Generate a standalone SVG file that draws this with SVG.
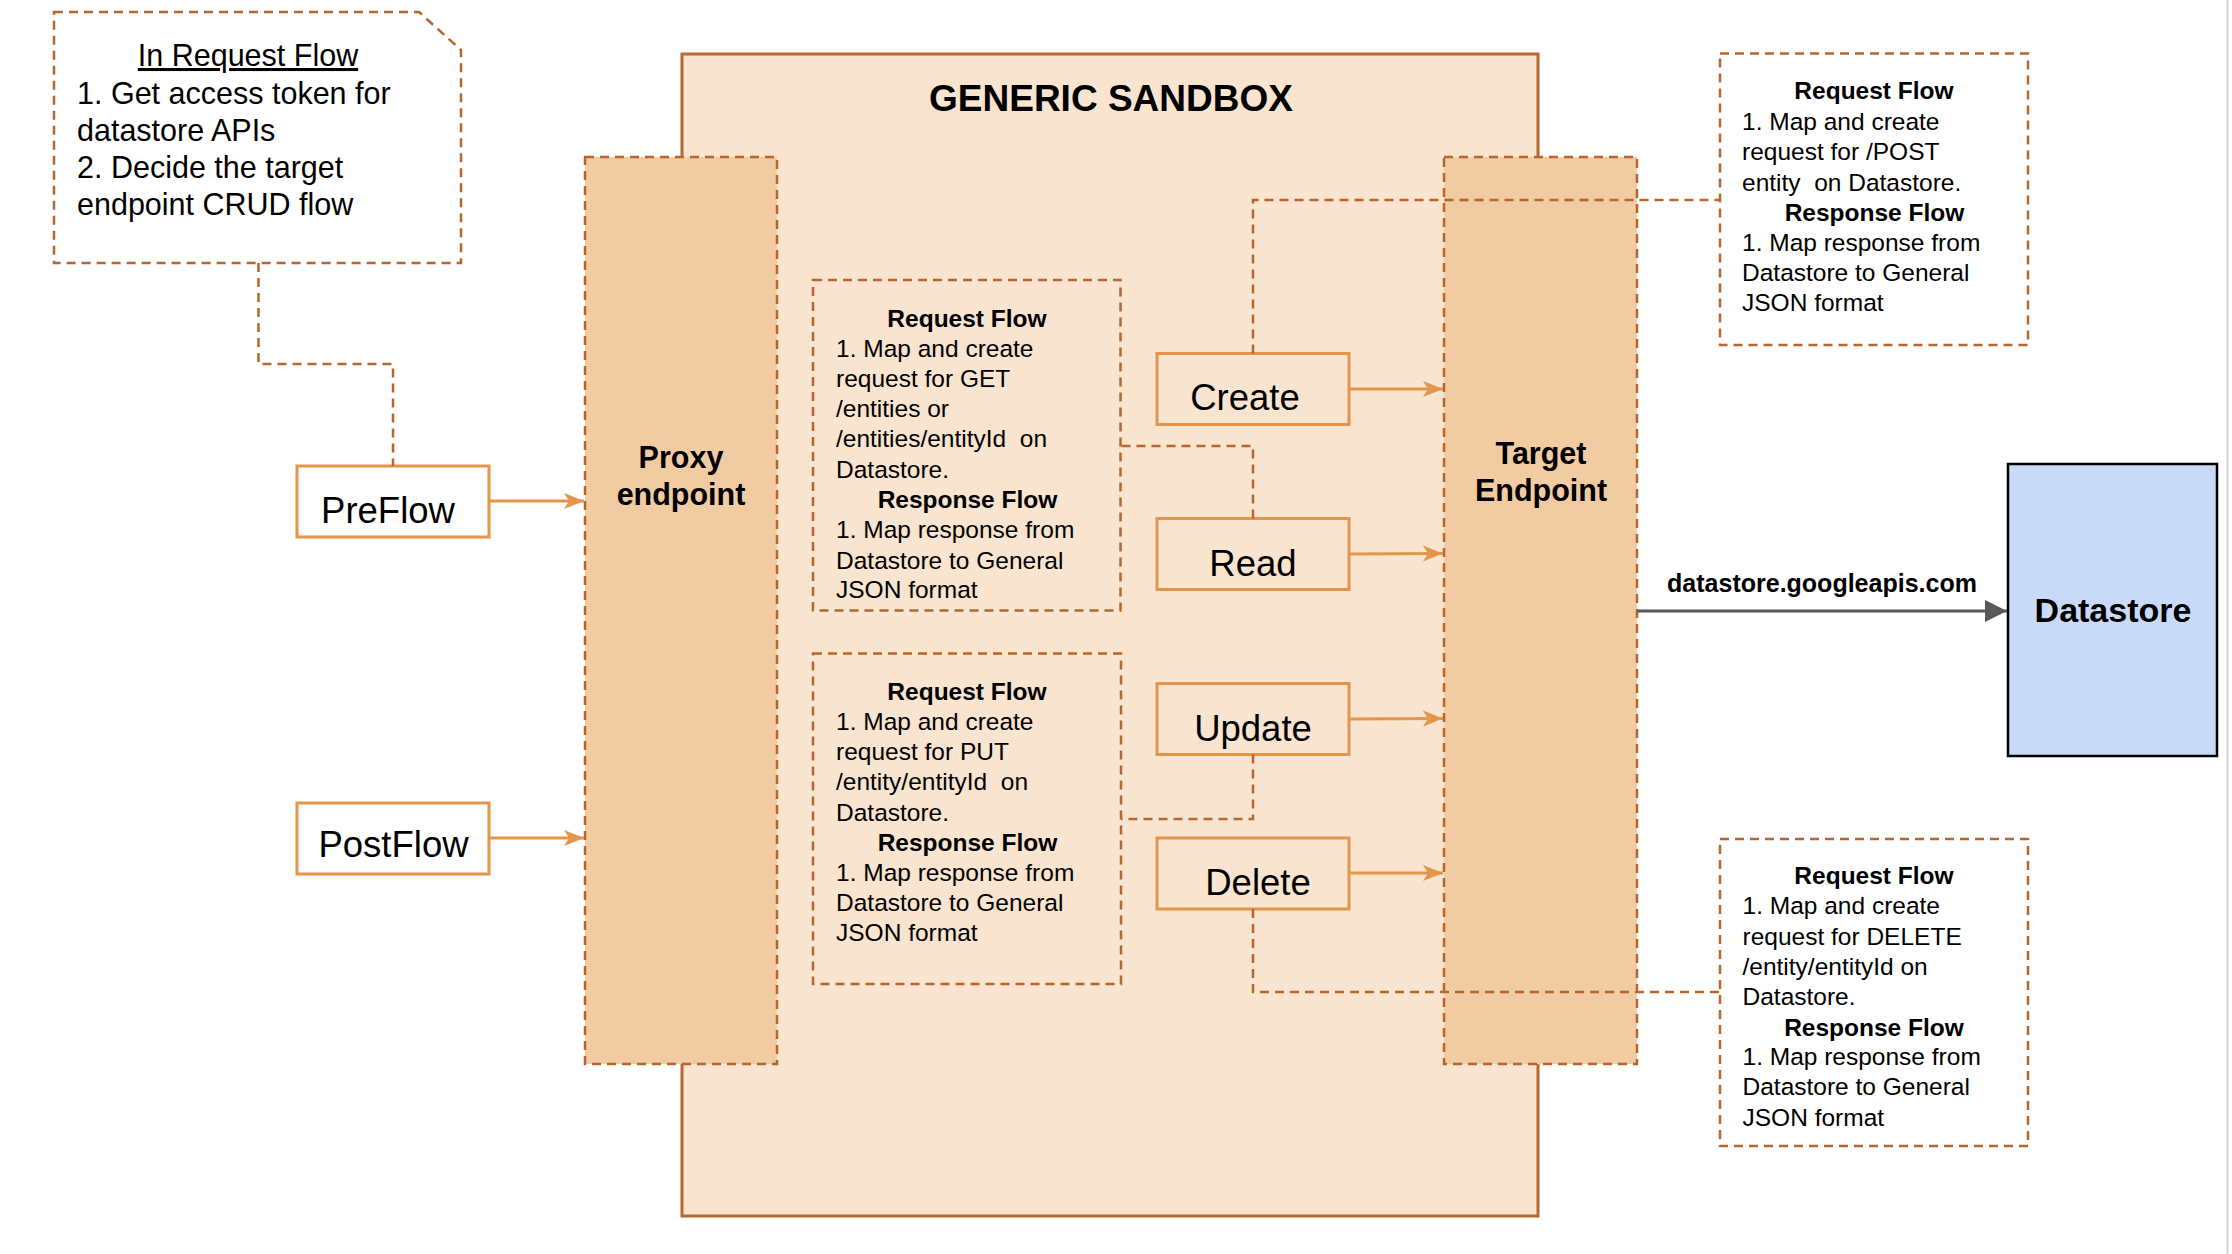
<svg xmlns="http://www.w3.org/2000/svg" width="2232" height="1254" viewBox="0 0 2232 1254">
<style>
.dash{fill:none;stroke:#b8662c;stroke-width:2.5;stroke-dasharray:9 6}
.box{stroke:#e3954b;stroke-width:3}
.arr{fill:none;stroke:#e3954b;stroke-width:3}
.t{font-family:"Liberation Sans",Arial,sans-serif;fill:#000}
.b{font-weight:bold}
.note{font-size:30.5px}
.fl{font-size:24.5px}
.lbl{font-size:36.5px}
</style>
<defs>
<marker id="oa" markerUnits="userSpaceOnUse" markerWidth="22" markerHeight="18" refX="20" refY="9" orient="auto">
<path d="M0,1 L20,9 L0,17 L5,9 Z" fill="#e3954b"/>
</marker>
<marker id="ga" markerUnits="userSpaceOnUse" markerWidth="24" markerHeight="24" refX="22" refY="12" orient="auto">
<path d="M0,1 L22,12 L0,23 Z" fill="#595959"/>
</marker>
</defs>
<rect width="2232" height="1254" fill="#ffffff"/>
<line x1="2227.5" y1="0" x2="2227.5" y2="1254" stroke="#d4d4d4" stroke-width="2"/>

<g id="sandbox">
<rect x="682" y="54" width="856" height="1162" fill="#f8e4cf" stroke="#b9692f" stroke-width="3"/>
<text class="t b" x="1111" y="111" font-size="37" text-anchor="middle">GENERIC SANDBOX</text>
</g>

<g id="note-request">
<path class="dash" d="M54,12 H419 L461,50 V263 H54 Z"/>
<text class="t note" x="248" y="66" text-anchor="middle" text-decoration="underline">In Request Flow</text>
<text class="t note" x="77" y="103.5">1. Get access token for</text>
<text class="t note" x="77" y="140.5">datastore APIs</text>
<text class="t note" x="77" y="177.5">2. Decide the target</text>
<text class="t note" x="77" y="214.5">endpoint CRUD flow</text>
</g>

<g id="preflow">
<rect class="box" x="297" y="466" width="192" height="71" fill="#ffffff"/>
<text class="t lbl" x="388" y="523" text-anchor="middle">PreFlow</text>
</g>

<g id="postflow">
<rect class="box" x="297" y="803" width="192" height="71" fill="#ffffff"/>
<text class="t lbl" x="393.5" y="857" text-anchor="middle">PostFlow</text>
</g>

<g id="proxy">
<rect class="dash" x="585" y="157" width="192" height="907" style="fill:#f1cba1"/>
<text class="t b" x="681" y="468" font-size="30.5" text-anchor="middle">Proxy</text>
<text class="t b" x="681" y="505" font-size="30.5" text-anchor="middle">endpoint</text>
</g>

<g id="target">
<rect class="dash" x="1444" y="157" width="193" height="907" style="fill:#f1cba1"/>
<text class="t b" x="1541" y="464" font-size="30.5" text-anchor="middle">Target</text>
<text class="t b" x="1541" y="501" font-size="30.5" text-anchor="middle">Endpoint</text>
</g>

<g id="note-get">
<rect class="dash" x="813" y="280" width="307.5" height="330.5"/>
<text class="t fl b" x="967" y="326.5" text-anchor="middle">Request Flow</text>
<text class="t fl" x="836" y="357">1. Map and create</text>
<text class="t fl" x="836" y="387">request for GET</text>
<text class="t fl" x="836" y="417">/entities or</text>
<text class="t fl" x="836" y="447" xml:space="preserve">/entities/entityId  on</text>
<text class="t fl" x="836" y="477.5">Datastore.</text>
<text class="t fl b" x="967.5" y="508" text-anchor="middle">Response Flow</text>
<text class="t fl" x="836" y="538">1. Map response from</text>
<text class="t fl" x="836" y="568.5">Datastore to General</text>
<text class="t fl" x="836" y="598">JSON format</text>
</g>

<g id="note-put">
<rect class="dash" x="813" y="653.5" width="308" height="330.5"/>
<text class="t fl b" x="967" y="700" text-anchor="middle">Request Flow</text>
<text class="t fl" x="836" y="730">1. Map and create</text>
<text class="t fl" x="836" y="760">request for PUT</text>
<text class="t fl" x="836" y="790" xml:space="preserve">/entity/entityId  on</text>
<text class="t fl" x="836" y="820.5">Datastore.</text>
<text class="t fl b" x="967.5" y="851" text-anchor="middle">Response Flow</text>
<text class="t fl" x="836" y="881">1. Map response from</text>
<text class="t fl" x="836" y="910.5">Datastore to General</text>
<text class="t fl" x="836" y="941">JSON format</text>
</g>

<g id="create">
<rect class="box" x="1157" y="353.5" width="192" height="71" fill="none"/>
<text class="t lbl" x="1245" y="410" text-anchor="middle">Create</text>
</g>

<g id="read">
<rect class="box" x="1157" y="518.5" width="192" height="71" fill="none"/>
<text class="t lbl" x="1253" y="575.5" text-anchor="middle">Read</text>
</g>

<g id="update">
<rect class="box" x="1157" y="683.5" width="192" height="71" fill="none"/>
<text class="t lbl" x="1253" y="740.5" text-anchor="middle">Update</text>
</g>

<g id="delete">
<rect class="box" x="1157" y="838" width="192" height="71" fill="none"/>
<text class="t lbl" x="1258" y="895" text-anchor="middle">Delete</text>
</g>

<g id="note-post">
<rect class="dash" x="1720" y="53.5" width="308" height="291.5"/>
<text class="t fl b" x="1874" y="99" text-anchor="middle">Request Flow</text>
<text class="t fl" x="1742" y="130">1. Map and create</text>
<text class="t fl" x="1742" y="160">request for /POST</text>
<text class="t fl" x="1742" y="190.5" xml:space="preserve">entity  on Datastore.</text>
<text class="t fl b" x="1874.5" y="221" text-anchor="middle">Response Flow</text>
<text class="t fl" x="1742" y="250.5">1. Map response from</text>
<text class="t fl" x="1742" y="281">Datastore to General</text>
<text class="t fl" x="1742" y="311">JSON format</text>
</g>

<g id="note-delete">
<rect class="dash" x="1720" y="839" width="308" height="307"/>
<text class="t fl b" x="1874" y="884" text-anchor="middle">Request Flow</text>
<text class="t fl" x="1742.5" y="914">1. Map and create</text>
<text class="t fl" x="1742.5" y="944.5">request for DELETE</text>
<text class="t fl" x="1742.5" y="974.5">/entity/entityId on</text>
<text class="t fl" x="1742.5" y="1004.5">Datastore.</text>
<text class="t fl b" x="1874" y="1035.5" text-anchor="middle">Response Flow</text>
<text class="t fl" x="1742.5" y="1065">1. Map response from</text>
<text class="t fl" x="1742.5" y="1095">Datastore to General</text>
<text class="t fl" x="1742.5" y="1126">JSON format</text>
</g>

<g id="datastore">
<rect x="2008" y="464" width="209" height="292" fill="#c9daf8" stroke="#000000" stroke-width="2.5"/>
<text class="t b" x="2113" y="622" font-size="34" text-anchor="middle">Datastore</text>
</g>

<g id="connectors">
<path class="dash" d="M258.5,263 V364 H393 V466"/>
<path class="dash" d="M1253,353.5 V200 H1720"/>
<path class="dash" d="M1253,518.5 V446 H1120.5"/>
<path class="dash" d="M1253,754.5 V819 H1121"/>
<path class="dash" d="M1253,909 V992 H1720"/>
<line class="arr" x1="489" y1="501" x2="584" y2="501" marker-end="url(#oa)"/>
<line class="arr" x1="489" y1="838" x2="584" y2="838" marker-end="url(#oa)"/>
<line class="arr" x1="1349" y1="389" x2="1443" y2="389" marker-end="url(#oa)"/>
<line class="arr" x1="1349" y1="554" x2="1443" y2="553.5" marker-end="url(#oa)"/>
<line class="arr" x1="1349" y1="719" x2="1443" y2="718.5" marker-end="url(#oa)"/>
<line class="arr" x1="1349" y1="873" x2="1443" y2="873" marker-end="url(#oa)"/>
<line x1="1637" y1="611" x2="2007" y2="611" stroke="#595959" stroke-width="3" marker-end="url(#ga)"/>
<text class="t b" x="1822" y="592" font-size="25" text-anchor="middle">datastore.googleapis.com</text>
</g>
</svg>
